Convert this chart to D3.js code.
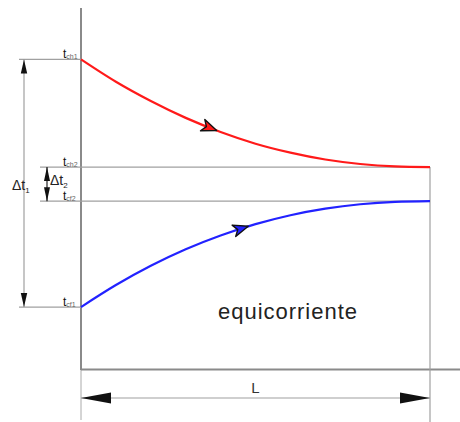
<!DOCTYPE html>
<html>
<head>
<meta charset="utf-8">
<script src="https://cdn.jsdelivr.net/npm/d3@7"></script>
<style>
  html, body { margin: 0; padding: 0; background: #fff; }
  svg { display: block; font-family: "Liberation Sans", Arial, sans-serif; }
</style>
</head>
<body>
<svg id="chart" width="460" height="422"></svg>
<script>
// Position along the exchanger (fraction of length L)
const positions = [0, 0.1, 0.2, 0.3, 0.4, 0.5, 0.6, 0.7, 0.8, 0.9, 1.0];
// Hot fluid temperature along the exchanger
const hotTemps = [90, 83.5, 77.9, 73.0, 68.9, 65.5, 62.9, 60.9, 59.6, 58.9, 58.7];
// Cold fluid temperature along the exchanger (same flow direction)
const coldTemps = [18, 24.4, 30.0, 34.8, 38.8, 42.1, 44.7, 46.6, 47.9, 48.6, 48.8];
// End temperatures and their labels
const endLabels = [
  { name: "t", sub: "ch1", value: 90 },
  { name: "t", sub: "ch2", value: 58.7 },
  { name: "t", sub: "cf2", value: 48.8 },
  { name: "t", sub: "cf1", value: 18 }
];
// Where the flow-direction arrows sit along each curve
const flowArrowAt = { hot: 0.37, cold: 0.46 };
const titleText = "equicorriente";

const svg = d3.select("#chart");
const x = d3.scaleLinear().domain([0, 1]).range([81, 430]);
const y = d3.scaleLinear().domain([0, 100]).range([369, 25]);

const gray = "#8a8a8a";

// Main axes
svg.append("line").attr("x1", x(0)).attr("x2", x(0)).attr("y1", 8).attr("y2", 370)
  .attr("stroke", gray).attr("stroke-width", 2);
svg.append("line").attr("x1", x(0)).attr("x2", x(0)).attr("y1", 370).attr("y2", 420)
  .attr("stroke", "#aaa").attr("stroke-width", 1);
svg.append("line").attr("x1", x(0)).attr("x2", 460).attr("y1", 369.5).attr("y2", 369.5)
  .attr("stroke", gray).attr("stroke-width", 2);

// Outlet lines and right-hand boundary
const tHot2 = endLabels[1].value, tCold2 = endLabels[2].value;
[tHot2, tCold2].forEach(v => {
  svg.append("line").attr("x1", 40).attr("x2", x(1)).attr("y1", y(v)).attr("y2", y(v))
    .attr("stroke", "#a0a0a0").attr("stroke-width", 1.2);
});
svg.append("line").attr("x1", x(1)).attr("x2", x(1)).attr("y1", y(tHot2)).attr("y2", 422)
  .attr("stroke", "#a0a0a0").attr("stroke-width", 1.2);

// Inlet extension lines
[endLabels[0].value, endLabels[3].value].forEach(v => {
  svg.append("line").attr("x1", 19).attr("x2", x(0)).attr("y1", y(v)).attr("y2", y(v))
    .attr("stroke", "#a0a0a0").attr("stroke-width", 1.2);
});

// Dimension arrowheads (long narrow black triangles)
function dimArrow(tipX, tipY, angleDeg, len, half) {
  svg.append("path")
    .attr("d", `M0,0 L${-len},${-half} L${-len},${half} Z`)
    .attr("transform", `translate(${tipX},${tipY}) rotate(${angleDeg})`)
    .attr("fill", "#111");
}

// Δt1 dimension
const dx1 = 24;
svg.append("line").attr("x1", dx1).attr("x2", dx1).attr("y1", y(90)).attr("y2", y(18))
  .attr("stroke", "#a0a0a0").attr("stroke-width", 1.2);
dimArrow(dx1, y(90), -90, 14, 3.2);
dimArrow(dx1, y(18), 90, 14, 3.2);
const dt1 = svg.append("text").attr("x", 12).attr("y", 190).attr("font-size", 14).attr("fill", "#222");
dt1.append("tspan").text("Δt");
dt1.append("tspan").attr("font-size", 8).attr("dy", 3).text("1");

// Δt2 dimension
const dx2 = 47;
svg.append("line").attr("x1", dx2).attr("x2", dx2).attr("y1", y(tHot2)).attr("y2", y(tCold2))
  .attr("stroke", "#222").attr("stroke-width", 1.2);
dimArrow(dx2, y(tHot2), -90, 14, 3);
dimArrow(dx2, y(tCold2), 90, 14, 3);
const dt2 = svg.append("text").attr("x", 50).attr("y", 185).attr("font-size", 14).attr("fill", "#222");
dt2.append("tspan").text("Δt");
dt2.append("tspan").attr("font-size", 8).attr("dy", 3).text("2");

// End temperature labels
endLabels.forEach(d => {
  const t = svg.append("text").attr("x", 63).attr("y", y(d.value) - 1)
    .attr("font-size", 12).attr("fill", "#111");
  t.append("tspan").text(d.name);
  t.append("tspan").attr("font-size", 7).attr("dy", 1).attr("fill", "#666").text(d.sub);
});

// Temperature curves
const line = d3.line()
  .x((d, i) => x(positions[i]))
  .y(d => y(d))
  .curve(d3.curveMonotoneX);

function curve(values, color, at) {
  const p = svg.append("path").attr("d", line(values))
    .attr("fill", "none").attr("stroke", color).attr("stroke-width", 2.2);
  // locate the point on the path at the chosen x and orient an arrow along it
  const node = p.node();
  const total = node.getTotalLength();
  const targetX = x(at);
  let lo = 0, hi = total;
  for (let k = 0; k < 40; k++) {
    const mid = (lo + hi) / 2;
    if (node.getPointAtLength(mid).x < targetX) lo = mid; else hi = mid;
  }
  const p0 = node.getPointAtLength(lo);
  const p1 = node.getPointAtLength(Math.min(total, lo + 2));
  const ang = Math.atan2(p1.y - p0.y, p1.x - p0.x) * 180 / Math.PI;
  svg.append("path")
    .attr("d", "M7,0 L-8,-6 L-4,0 L-8,6 Z")
    .attr("transform", `translate(${p0.x},${p0.y}) rotate(${ang})`)
    .attr("fill", color).attr("stroke", "#111").attr("stroke-width", 1.4)
    .attr("stroke-linejoin", "round");
}
curve(hotTemps, "#ff1a1a", flowArrowAt.hot);
curve(coldTemps, "#2222ff", flowArrowAt.cold);

// Length dimension L
const ly = 398;
svg.append("line").attr("x1", x(0)).attr("x2", x(1)).attr("y1", ly).attr("y2", ly)
  .attr("stroke", "#a0a0a0").attr("stroke-width", 1.2);
dimArrow(x(0), ly, 180, 30, 5.5);
dimArrow(x(1), ly, 0, 30, 5.5);
svg.append("text").attr("x", x(0.5)).attr("y", 393).attr("text-anchor", "middle")
  .attr("font-size", 15).attr("fill", "#333").text("L");

// Flow arrangement caption
svg.append("text").attr("x", 218).attr("y", 319).attr("font-size", 22)
  .attr("textLength", 139).attr("lengthAdjust", "spacing")
  .attr("fill", "#222").text(titleText);
</script>
</body>
</html>
